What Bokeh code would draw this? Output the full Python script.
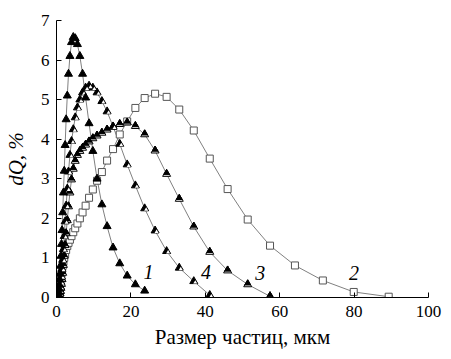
from bokeh.plotting import figure
from bokeh.models import Range1d, ColumnDataSource, FixedTicker
from bokeh.transform import dodge
from bokeh.core.properties import value
from bokeh.embed import file_html
from bokeh.resources import INLINE

# Series 1 (filled triangles)
x1 = [0.49, 0.55, 0.62, 0.69, 0.77, 0.86, 0.96, 1.07, 1.20, 1.34, 1.49, 1.67, 1.86, 2.08, 2.32, 2.59, 2.90, 3.23,
      3.61, 4.03, 4.51, 5.03, 5.62, 6.28, 7.01, 7.83, 8.75, 9.77, 10.9, 12.2, 13.6, 15.2, 17.0, 19.0, 21.2, 23.7]
y1 = [0.04, 0.08, 0.14, 0.22, 0.32, 0.45, 0.6, 0.8, 1.05, 1.35, 1.7, 2.15, 2.65, 3.2, 3.85, 4.5, 5.1, 5.65,
      6.1, 6.45, 6.58, 6.55, 6.4, 6.1, 5.65, 5.05, 4.4, 3.7, 3.0, 2.35, 1.8, 1.26, 0.86, 0.55, 0.33, 0.17]

# Series 2 (open squares)
x2 = [0.69, 0.77, 0.86, 0.96, 1.07, 1.20, 1.34, 1.49, 1.67, 1.86, 2.08, 2.32, 2.59, 2.90, 3.23, 3.61, 4.03, 4.51,
      5.03, 5.62, 6.28, 7.01, 7.83, 8.75, 9.77, 10.9, 12.2, 13.6, 15.2, 17.0, 19.0, 21.2, 23.7, 26.5, 29.6, 33.0,
      36.9, 41.2, 46.0, 51.4, 57.4, 64.1, 71.6, 79.9, 89.3]
y2 = [0.05, 0.12, 0.2, 0.3, 0.4, 0.5, 0.6, 0.7, 0.8, 0.9, 1.0, 1.1, 1.2, 1.3, 1.38, 1.46, 1.55, 1.65,
      1.75, 1.87, 2.0, 2.15, 2.32, 2.52, 2.73, 2.95, 3.17, 3.46, 3.75, 4.12, 4.45, 4.79, 5.04, 5.15, 5.07, 4.75,
      4.22, 3.51, 2.74, 1.97, 1.31, 0.81, 0.43, 0.14, 0.02]

# Series 3
x3 = [0.86, 0.96, 1.07, 1.20, 1.34, 1.49, 1.67, 1.86, 2.08, 2.32, 2.59, 2.90, 3.23, 3.61, 4.03, 4.51, 5.03, 5.62,
      6.28, 7.01, 7.83, 8.75, 9.77, 10.9, 12.2, 13.6, 15.2, 17.0, 19.0, 21.2, 23.7, 26.5, 29.6, 33.0, 36.9, 41.2,
      46.0, 51.4, 57.4]
y3 = [0.05, 0.1, 0.16, 0.24, 0.34, 0.46, 0.62, 0.82, 1.05, 1.32, 1.62, 1.95, 2.3, 2.65, 2.98, 3.25, 3.45, 3.6,
      3.7, 3.78, 3.86, 3.94, 4.02, 4.09, 4.16, 4.24, 4.31, 4.38, 4.42, 4.33, 4.12, 3.71, 3.12, 2.49, 1.79, 1.15,
      0.68, 0.33, 0.03]

# Series 4
x4 = [0.77, 0.86, 0.96, 1.07, 1.20, 1.34, 1.49, 1.67, 1.86, 2.08, 2.32, 2.59, 2.90, 3.23, 3.61, 4.03, 4.51, 5.03,
      5.62, 6.28, 7.01, 7.83, 8.75, 9.77, 10.9, 12.2, 13.6, 15.2, 17.0, 19.0, 21.2, 23.7, 26.5, 29.6, 33.0, 36.9,
      41.2]
y4 = [0.05, 0.1, 0.17, 0.26, 0.38, 0.53, 0.72, 0.95, 1.22, 1.55, 1.92, 2.32, 2.75, 3.18, 3.6, 3.95, 4.25, 4.55,
      4.8, 5.0, 5.18, 5.3, 5.35, 5.3, 5.18, 4.96, 4.7, 4.32, 3.88, 3.36, 2.83, 2.25, 1.69, 1.17, 0.75, 0.41,
      0.06]

curve_labels = ["1", "4", "3", "2"]
label_x = [24.7, 40.2, 54.8, 80.0]
label_y = [0.64, 0.64, 0.62, 0.62]

x_ticks = [0, 20, 40, 60, 80, 100]
y_ticks = [0, 1, 2, 3, 4, 5, 6, 7]

FONT = "Liberation Serif"
LINE = "#808080"

p = figure(width=443, height=351, x_range=Range1d(0, 100), y_range=Range1d(0, 7),
           output_backend="svg", toolbar_location=None,
           min_border_left=55, min_border_right=15, min_border_top=20, min_border_bottom=53)
p.outline_line_color = None
p.grid.visible = False
p.background_fill_color = "white"
p.border_fill_color = "white"

for ax in (p.xaxis[0], p.yaxis[0]):
    ax.major_tick_in = 5
    ax.major_tick_out = 0
    ax.minor_tick_line_color = None
    ax.axis_line_color = "black"
    ax.major_tick_line_color = "black"
    ax.major_label_text_font = FONT
    ax.major_label_text_font_size = "17px"
    ax.major_label_text_color = "black"
    ax.axis_label_text_font = FONT
    ax.axis_label_text_font_size = "21px"
    ax.axis_label_text_color = "black"

p.xaxis.ticker = FixedTicker(ticks=x_ticks)
p.yaxis.ticker = FixedTicker(ticks=y_ticks)
p.xaxis.axis_label = "Размер частиц, мкм"
p.xaxis.axis_label_text_font_style = "normal"
p.yaxis.axis_label = "dQ, %"
p.yaxis.axis_label_text_font_style = "italic"
p.xaxis.major_label_standoff = 8
p.yaxis.major_label_standoff = 7
p.xaxis.axis_label_standoff = 5
p.yaxis.axis_label_standoff = 10

s1 = ColumnDataSource(dict(x=x1, y=y1))
s2 = ColumnDataSource(dict(x=x2, y=y2))
s3 = ColumnDataSource(dict(x=x3, y=y3))
s4 = ColumnDataSource(dict(x=x4, y=y4))

for s in (s2, s3, s4, s1):
    p.line("x", "y", source=s, line_color=LINE, line_width=1)

# series 2: open squares
p.scatter("x", "y", source=s2, marker="square", size=7, fill_color="white",
          line_color="#555555", line_width=1)

# series 3: black triangles with white lower band
p.scatter("x", "y", source=s3, marker="triangle", size=8, fill_color="white",
          line_color="black", line_width=1)
p.scatter("x", dodge("y", 0.03, range=p.y_range), source=s3, marker="triangle", size=6,
          fill_color="black", line_color="black")

# series 4: half-filled triangles
p.scatter("x", "y", source=s4, marker="triangle", size=8, fill_color="black",
          line_color="black", line_width=1)
p.scatter(dodge("x", 0.4, range=p.x_range), dodge("y", -0.03, range=p.y_range), source=s4,
          marker="triangle", size=4, fill_color="white", line_color=None)

# series 1: filled triangles
p.scatter("x", "y", source=s1, marker="triangle", size=8, fill_color="black",
          line_color="black", line_width=1)

lab = ColumnDataSource(dict(x=label_x, y=label_y, t=curve_labels))
p.text("x", "y", text="t", source=lab, text_font=value(FONT), text_font_size="20px",
       text_font_style="italic", text_align="center", text_baseline="middle", text_color="black")

open("out.html", "w").write(file_html(p, INLINE))
